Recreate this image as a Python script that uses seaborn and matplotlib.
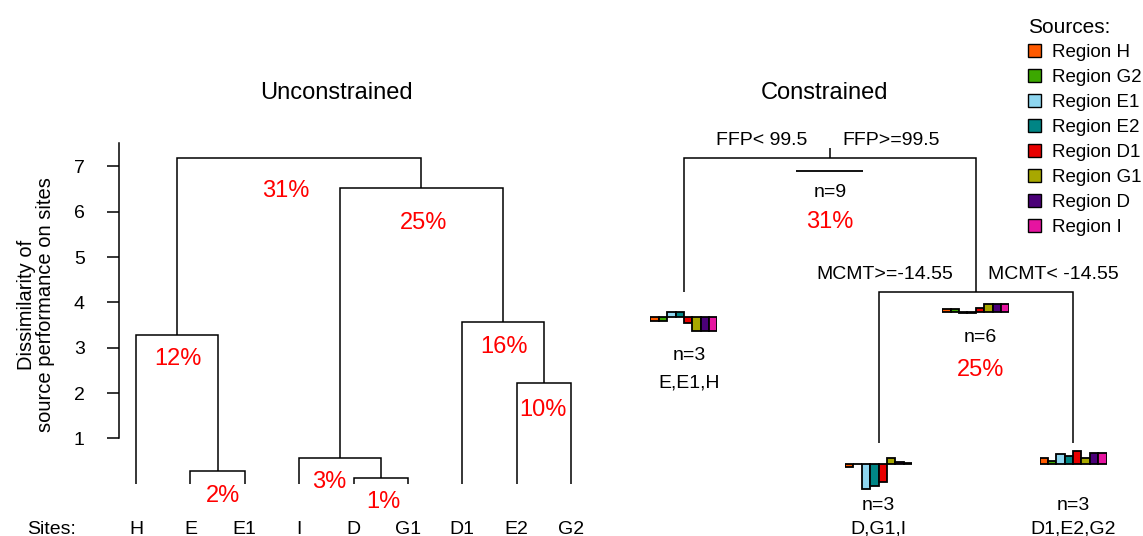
import matplotlib
matplotlib.use("Agg")
import matplotlib.pyplot as plt
import matplotlib.transforms as mtransforms
from matplotlib.patches import Rectangle
import seaborn as sns

sns.set_theme(style="white")
plt.rcParams["font.family"] = ["Liberation Sans", "DejaVu Sans"]
plt.rcParams["text.color"] = "black"
plt.rcParams["axes.labelcolor"] = "black"
plt.rcParams["xtick.color"] = "black"
plt.rcParams["ytick.color"] = "black"

# ---------------- data ----------------
sites = ["H", "E", "E1", "I", "D", "G1", "D1", "E2", "G2"]

# agglomerative clustering of sites: members joined, join height, % of variance
merge_a = ["E", "D", "I", "E2", "H", "D1", "m2", "m4"]
merge_b = ["E1", "G1", "m1", "G2", "m0", "m3", "m5", "m6"]
merge_height = [0.28, 0.13, 0.57, 2.22, 3.28, 3.57, 6.52, 7.18]
merge_pct = [2, 1, 3, 10, 12, 16, 25, 31]
y_ticks = [1, 2, 3, 4, 5, 6, 7]

# source regions
sources = ["Region H", "Region G2", "Region E1", "Region E2",
           "Region D1", "Region G1", "Region D", "Region I"]
source_colors = ["#FF5A00", "#3CA800", "#8ED6F0", "#008585",
                 "#E80000", "#A8A800", "#4B0078", "#E614A0"]

# multivariate regression tree
node_x = [1.75, 1.0, 2.5, 2.0, 3.0]
node_y = [1.0, 0.69, 0.69, 0.34, 0.34]
node_parent = [None, 0, 0, 2, 2]
node_n = [9, 3, 6, 3, 3]
node_pct = ["31%", None, "25%", None, None]
leaf_sites = [None, "E,E1,H", None, "D,G1,I", "D1,E2,G2"]
split_left = ["FFP< 99.5", None, "MCMT>=-14.55", None, None]
split_right = ["FFP>=99.5", None, "MCMT< -14.55", None, None]

# mean (centred) source performance in each node
means_root = [0, 0, 0, 0, 0, 0, 0, 0]
means_left = [-0.8, -0.8, 0.9, 0.9, -1.2, -2.8, -2.8, -2.8]
means_right = [0.6, 0.6, -0.2, -0.2, 0.8, 1.6, 1.6, 1.6]
means_right_left = [-0.6, 0.0, -4.9, -4.3, -3.6, 1.3, 0.5, 0.3]
means_right_right = [1.3, 0.7, 2.0, 1.6, 2.6, 1.3, 2.3, 2.3]
node_means = [means_root, means_left, means_right, means_right_left, means_right_right]

# ---------------- layout ----------------
W, H = 1143, 536
fig = plt.figure(figsize=(W / 100, H / 100), dpi=100)
fig.patch.set_facecolor("white")

LW = 1.1
RED = "#FF0000"
FS = 14
FS_TITLE = 17


def fbox(l, t, r, b):
    return [l / W, 1 - b / H, (r - l) / W, (b - t) / H]


def fx(px):
    return px / W


def fy(py):
    return 1 - py / H


def cap_shift(size_pt):
    # pixels from visual centre of capitals down to baseline
    return 0.716 * size_pt * 100 / 72 / 2


# ---- left panel: dendrogram ----
LX0, LDX = 136.0, 54.375     # pixel of first leaf, pixels per leaf
LY0, LDY = 483.7, 45.33      # pixel of height 0, pixels per unit
axl = fig.add_axes(fbox(119, 130, 600, LY0))
axl.set_facecolor("none")
axl.set_xlim((119 - LX0) / LDX, (600 - LX0) / LDX)
axl.set_ylim(0, (LY0 - 130) / LDY)

pct_nudge = [(5, 23), (2.5, 22), (-11, 22), (-1, 24), (1, 22), (1, 23), (2, 32), (-13, 30)]
pos = {s: (float(i), 0.0) for i, s in enumerate(sites)}
for k, (a, b, h, p) in enumerate(zip(merge_a, merge_b, merge_height, merge_pct)):
    xa, ya = pos[a]
    xb, yb = pos[b]
    axl.plot([xa, xa, xb, xb], [ya, h, h, yb], color="black", lw=LW,
             solid_joinstyle="miter", solid_capstyle="butt")
    xm = (xa + xb) / 2
    pos[f"m{k}"] = (xm, h)
    dx, dy = pct_nudge[k]
    axl.annotate(f"{p}%", xy=(xm, h),
                 xytext=(dx * 0.72, -(dy + cap_shift(FS_TITLE)) * 0.72),
                 textcoords="offset points", ha="center", va="baseline",
                 color=RED, fontsize=FS_TITLE)

for side in ["top", "right", "bottom"]:
    axl.spines[side].set_visible(False)
axl.spines["left"].set_color("black")
axl.spines["left"].set_linewidth(LW)
axl.spines["left"].set_bounds(1, 7.52)
axl.set_yticks(y_ticks)
axl.set_yticklabels([str(t) for t in y_ticks])
axl.set_xticks([])
axl.tick_params(axis="y", direction="out", length=12 * 0.72, width=LW,
                color="black", labelcolor="black", pad=16, labelsize=FS, left=True)
axl.grid(False)

base_tr = mtransforms.blended_transform_factory(axl.transData, fig.transFigure)
SITE_BASE = 533.5
for i, s in enumerate(sites):
    axl.text(i, fy(SITE_BASE), s, transform=base_tr, ha="center", va="baseline",
             fontsize=FS, clip_on=False)
fig.text(fx(52), fy(SITE_BASE), "Sites:", ha="center", va="baseline", fontsize=FS)

fig.text(fx(36), fy(305), "Dissimilarity of\nsource performance on sites",
         rotation=90, ha="center", va="center", multialignment="center",
         fontsize=14.5, linespacing=1.05)

fig.text(fx(336), fy(91 + cap_shift(FS_TITLE)), "Unconstrained", ha="center",
         va="baseline", fontsize=FS_TITLE)

# ---- right panel: regression tree ----
RX0, RDX = 684.0, 194.5      # pixel of first leaf, pixels per leaf
RY0, RDY = 158.0, 432.0      # pixel of root height, pixels per unit
axr = fig.add_axes(fbox(600, 0, W, H))
axr.set_facecolor("none")
axr.set_xlim((600 - RX0) / RDX + 1, (W - RX0) / RDX + 1)
axr.set_ylim(1 - (H - RY0) / RDY, 1 + RY0 / RDY)
axr.axis("off")

# root stem
axr.plot([node_x[0], node_x[0]], [node_y[0], node_y[0] + 10 / RDY],
         color="black", lw=LW, solid_capstyle="butt")
for i, p in enumerate(node_parent):
    if p is None:
        continue
    axr.plot([node_x[p], node_x[i], node_x[i]], [node_y[p], node_y[p], node_y[i]],
             color="black", lw=LW, solid_joinstyle="miter", solid_capstyle="butt")

# split labels
for i in range(len(node_x)):
    if split_left[i]:
        axr.annotate(split_left[i], xy=(node_x[i], node_y[i]),
                     xytext=(-23 * 0.72, (19.5 - cap_shift(FS)) * 0.72),
                     textcoords="offset points", ha="right", va="baseline", fontsize=FS)
        axr.annotate(split_right[i], xy=(node_x[i], node_y[i]),
                     xytext=(12 * 0.72, (19.5 - cap_shift(FS)) * 0.72),
                     textcoords="offset points", ha="left", va="baseline", fontsize=FS)

# node bar glyphs and labels (pixel offsets below each node)
glyph_drop = [13, 25, 20, 21, 21]
n_drop = [32, 61, 43, 60, 60]
label_drop = [62, 89, 76, 83, 83]
x_nudge = [0, 5, 5, 0, 0]
GLYPH_W = 67.0
UNIT_PX = 5.0
G_LO, G_HI = -6.0, 4.0
palette = dict(zip(sources, source_colors))

for i in range(len(node_x)):
    base = node_y[i] - glyph_drop[i] / RDY
    ins = axr.inset_axes([node_x[i] - GLYPH_W / 2 / RDX,
                          base + G_LO * UNIT_PX / RDY,
                          GLYPH_W / RDX,
                          (G_HI - G_LO) * UNIT_PX / RDY],
                         transform=axr.transData)
    sns.barplot(x=sources, y=node_means[i], hue=sources, palette=palette,
                saturation=1, width=1.0, edgecolor="black", linewidth=1.3,
                legend=False, ax=ins)
    ins.set_xlim(-0.5, len(sources) - 0.5)
    ins.set_ylim(G_LO, G_HI)
    ins.set_xticks([])
    ins.set_yticks([])
    ins.set_xlabel("")
    ins.set_ylabel("")
    ins.axis("off")
    ins.patch.set_visible(False)

    axr.annotate(f"n={node_n[i]}", xy=(node_x[i], node_y[i]),
                 xytext=(x_nudge[i] * 0.72, -(n_drop[i] + cap_shift(FS)) * 0.72),
                 textcoords="offset points", ha="center", va="baseline", fontsize=FS)
    if node_pct[i]:
        axr.annotate(node_pct[i], xy=(node_x[i], node_y[i]),
                     xytext=(x_nudge[i] * 0.72, -(label_drop[i] + cap_shift(FS_TITLE)) * 0.72),
                     textcoords="offset points", ha="center", va="baseline",
                     fontsize=FS_TITLE, color=RED)
    if leaf_sites[i]:
        axr.annotate(leaf_sites[i], xy=(node_x[i], node_y[i]),
                     xytext=(x_nudge[i] * 0.72, -(label_drop[i] + cap_shift(FS)) * 0.72),
                     textcoords="offset points", ha="center", va="baseline", fontsize=FS)

fig.text(fx(825), fy(91 + cap_shift(FS_TITLE)), "Constrained", ha="center",
         va="baseline", fontsize=FS_TITLE)

# ---- legend ----
fig.text(fx(1028), fy(25.5 + cap_shift(15)), "Sources:", ha="left", va="baseline", fontsize=15)
for k, (name, col) in enumerate(zip(sources, source_colors)):
    yc = 50 + 25.1 * k
    fig.patches.append(Rectangle((fx(1028), fy(yc + 6.5)), 13 / W, 13 / H,
                                 transform=fig.transFigure, facecolor=col,
                                 edgecolor="black", linewidth=1.0))
    fig.text(fx(1052), fy(yc + cap_shift(13.5)), name, ha="left", va="baseline", fontsize=13.5)

fig.savefig("out.png", dpi=100, facecolor="white")
